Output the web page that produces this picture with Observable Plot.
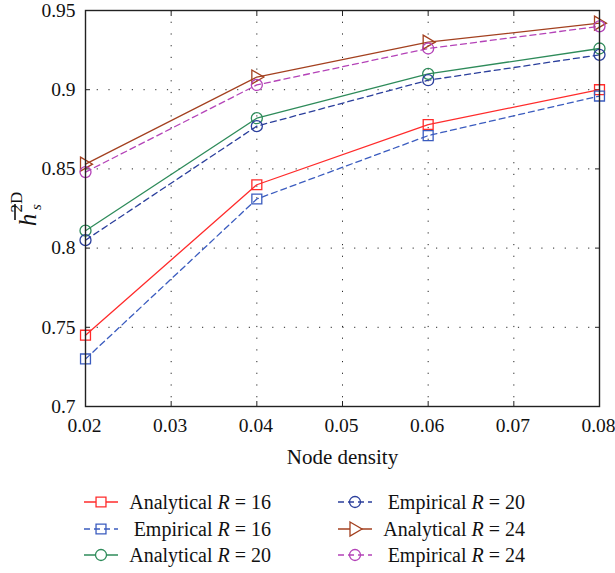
<!DOCTYPE html>
<html>
<head>
<meta charset="utf-8">
<script src="https://cdn.jsdelivr.net/npm/d3@7"></script>
<script src="https://cdn.jsdelivr.net/npm/@observablehq/plot@0.6"></script>
<style>
  html, body { margin: 0; padding: 0; background: #fff; }
  #wrap { position: relative; width: 615px; height: 573px; }
  #legend { position: absolute; left: 0; top: 479px; width: 615px; height: 94px; }
  .item { position: absolute; height: 26px; }
  .lab { position: absolute; font-size: 20px; line-height: 26px; white-space: nowrap; text-align: right; color: #111; }
</style>
</head>
<body>
<div id="wrap"><div id="chart"></div><div id="legend"></div></div>
<script>
// ---- data ----
const density = [0.02, 0.04, 0.06, 0.08];
const analytical16 = [0.745, 0.840, 0.878, 0.900];
const empirical16  = [0.730, 0.831, 0.871, 0.896];
const analytical20 = [0.811, 0.882, 0.910, 0.926];
const empirical20  = [0.805, 0.877, 0.906, 0.922];
const analytical24 = [0.853, 0.908, 0.930, 0.942];
const empirical24  = [0.848, 0.903, 0.926, 0.940];

const seriesNames = ["Analytical R = 16", "Empirical R = 16", "Analytical R = 20", "Empirical R = 20", "Analytical R = 24", "Empirical R = 24"];
const seriesValues = [analytical16, empirical16, analytical20, empirical20, analytical24, empirical24];
const seriesColors = ["#ff2b2b", "#3b5cbf", "#2e8b5a", "#2b3f9c", "#a3401f", "#b443b8"];
const seriesDashed = [false, true, false, true, false, true];
const seriesMarkers = ["square", "square", "circle", "circle", "triangleRight", "circle"];

const xTicks = [0.02, 0.03, 0.04, 0.05, 0.06, 0.07, 0.08];
const yTicks = [0.7, 0.75, 0.8, 0.85, 0.9, 0.95];
const yTickLabels = ["0.7", "0.75", "0.8", "0.85", "0.9", "0.95"];
const xTickLabels = ["0.02", "0.03", "0.04", "0.05", "0.06", "0.07", "0.08"];

// pick an installed serif font
function pickSerif() {
  const cands = ["Liberation Serif", "Tinos", "Times New Roman", "DejaVu Serif", "Noto Serif", "FreeSerif", "Nimbus Roman"];
  const c = document.createElement("canvas").getContext("2d");
  const s = "Node density 0.123456789 AaRr";
  for (const f of cands) {
    let ok = false;
    for (const fb of ["monospace", "sans-serif"]) {
      c.font = `20px ${fb}`; const w0 = c.measureText(s).width;
      c.font = `20px "${f}", ${fb}`; const w1 = c.measureText(s).width;
      if (Math.abs(w0 - w1) > 0.5) ok = true;
    }
    if (ok) return `"${f}", serif`;
  }
  return "serif";
}
const FONT = pickSerif();
document.getElementById("wrap").style.fontFamily = FONT;

// custom right-pointing triangle symbol
const triangleRight = {
  draw(context, size) {
    const s = Math.sqrt(size / 100);
    context.moveTo(-5 * s, -7 * s);
    context.lineTo(7 * s, 0);
    context.lineTo(-5 * s, 7 * s);
    context.closePath();
  }
};
const symbolOf = m => m === "triangleRight" ? triangleRight : m;
const radiusOf = m => m === "square" ? 5.6 : m === "circle" ? 5.5 : 5.64;

const rows = [];
seriesNames.forEach((name, i) => {
  seriesValues[i].forEach((v, j) => rows.push({series: name, x: density[j], y: v}));
});

const lineMarks = [];
const dotMarks = [];
seriesNames.forEach((name, i) => {
  const data = rows.filter(r => r.series === name);
  lineMarks.push(Plot.line(data, {
    x: "x", y: "y", stroke: seriesColors[i], strokeWidth: 1.3,
    strokeDasharray: seriesDashed[i] ? "6,4" : null
  }));
  dotMarks.push(Plot.dot(data, {
    x: "x", y: "y", stroke: seriesColors[i], strokeWidth: 1.3, fill: "none",
    symbol: symbolOf(seriesMarkers[i]), r: radiusOf(seriesMarkers[i])
  }));
});

const chart = Plot.plot({
  width: 615,
  height: 479,
  marginLeft: 85,
  marginRight: 16,
  marginTop: 10,
  marginBottom: 73,
  x: {domain: [0.02, 0.08]},
  y: {domain: [0.7, 0.95]},
  style: {fontFamily: FONT, fontSize: "19.5px", color: "#111", background: "white"},
  marks: [
    Plot.gridX(xTicks, {stroke: "#000", strokeOpacity: 0.85, strokeDasharray: "1.2,10.5"}),
    Plot.gridY(yTicks, {stroke: "#000", strokeOpacity: 0.85, strokeDasharray: "1.2,10.5"}),
    Plot.axisX(xTicks, {anchor: "bottom", tickSize: 0, tickPadding: 12, dx: -1, tickFormat: (d, i) => xTickLabels[i], label: null}),
    Plot.axisY(yTicks, {anchor: "left", tickSize: 0, tickPadding: 10, tickFormat: (d, i) => yTickLabels[i], label: null}),
    Plot.axisX(xTicks, {anchor: "bottom", tickSize: -5, tickFormat: () => "", label: null, stroke: "#222"}),
    Plot.axisX(xTicks, {anchor: "top", tickSize: -5, tickFormat: () => "", label: null, stroke: "#222"}),
    Plot.axisY(yTicks, {anchor: "left", tickSize: -5, tickFormat: () => "", label: null, stroke: "#222"}),
    Plot.axisY(yTicks, {anchor: "right", tickSize: -5, tickFormat: () => "", label: null, stroke: "#222"}),
    ...lineMarks,
    ...dotMarks,
    Plot.frame({stroke: "#222", strokeWidth: 1.4}),
    Plot.text(["Node density"], {frameAnchor: "bottom", dy: 57, fontSize: 21, fill: "#111"})
  ]
});
document.getElementById("chart").appendChild(chart);

// y-axis label: h̄_s^{2D}, rotated
const svg = d3.select(chart);
const g = svg.append("g").attr("transform", "translate(36,220) rotate(-90)")
  .attr("font-family", FONT).attr("fill", "#111");
g.append("text").attr("x", 0).attr("y", 0).attr("font-size", 25).attr("font-style", "italic").text("h");
g.append("line").attr("x1", 0).attr("x2", 16).attr("y1", -21).attr("y2", -21).attr("stroke", "#111").attr("stroke-width", 1.6);
g.append("text").attr("x", 13).attr("y", 5).attr("font-size", 15).attr("font-style", "italic").text("s");
g.append("text").attr("x", 18).attr("y", -14).attr("font-size", 17).text("2D");

// legend
const legend = d3.select("#legend");
const colLeft = [84, 338];
const colRight = [271, 525];
seriesNames.forEach((name, i) => {
  const col = i < 3 ? 0 : 1;
  const row = i % 3;
  const top = 10 + row * 26.5;
  const sw = legend.append("svg").attr("class", "item")
    .style("left", colLeft[col] + "px").style("top", (top) + "px")
    .attr("width", 34).attr("height", 26);
  sw.append("line").attr("x1", 0).attr("x2", 34).attr("y1", 13).attr("y2", 13)
    .attr("stroke", seriesColors[i]).attr("stroke-width", 1.3)
    .attr("stroke-dasharray", seriesDashed[i] ? "6,4" : null);
  const sym = d3.symbol().type(seriesMarkers[i] === "square" ? d3.symbolSquare : seriesMarkers[i] === "circle" ? d3.symbolCircle : triangleRight)
    .size(Math.PI * radiusOf(seriesMarkers[i]) ** 2);
  sw.append("path").attr("d", sym()).attr("transform", "translate(17,13)")
    .attr("fill", seriesDashed[i] ? "none" : "white").attr("stroke", seriesColors[i]).attr("stroke-width", 1.3);
  const parts = name.split("R");
  const lab = legend.append("div").attr("class", "lab")
    .style("left", (colRight[col] - 200) + "px").style("width", "200px").style("top", top + "px");
  lab.append("span").text(parts[0]);
  lab.append("i").text("R");
  lab.append("span").text(parts[1]);
});
</script>
</body>
</html>
